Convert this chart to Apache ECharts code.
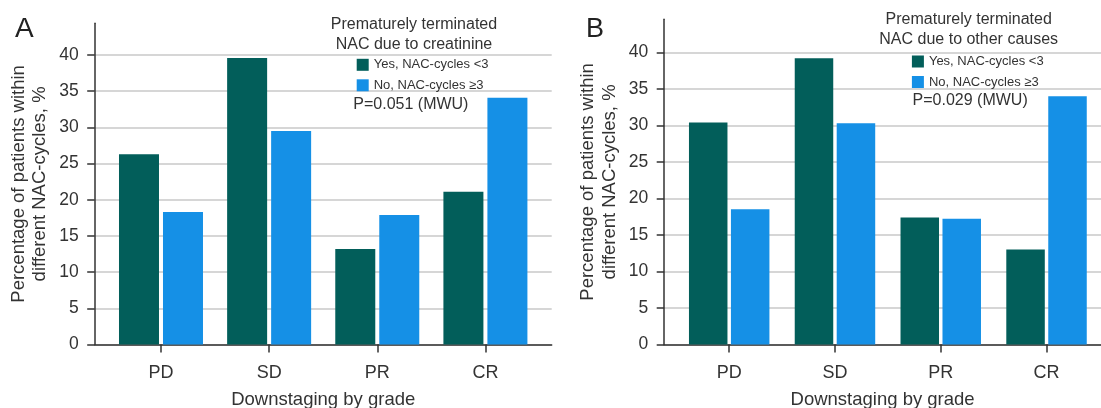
<!DOCTYPE html>
<html><head><meta charset="utf-8">
<script src="https://cdn.jsdelivr.net/npm/echarts@6/dist/echarts.min.js"></script>
<style>html,body{margin:0;padding:0;background:#fff}#c{width:1101px;height:408px}</style>
</head><body><div id="c"></div>
<script>
const categories = ['PD', 'SD', 'PR', 'CR'];
const seriesNames = ['Yes, NAC-cycles <3', 'No, NAC-cycles \u22653'];
const creatinineYes = [26.3, 39.6, 13.2, 21.1];
const creatinineNo = [18.3, 29.5, 17.9, 34.1];
const otherYes = [30.4, 39.2, 17.4, 13.0];
const otherNo = [18.5, 30.3, 17.2, 34.0];
const yTicks = [0, 5, 10, 15, 20, 25, 30, 35, 40];
const catPos = categories.map((c, i) => i + 1);

const FONT = "'Liberation Sans', Arial, Helvetica, sans-serif";
const DARK = '#025E5A';
const BLUE = '#1590E6';
const TXT = '#333';

function toPairs(arr) { return catPos.map((x, i) => [x, arr[i]]); }

function xAxisFor(gi, min, max) {
  return {
    type: 'value', gridIndex: gi, min: min, max: max,
    axisLine: { show: true, onZero: false, lineStyle: { color: '#333', width: 1.5 } },
    axisTick: { show: true, customValues: catPos, length: 8, lineStyle: { color: '#333', width: 1.5 } },
    axisLabel: { show: true, customValues: catPos, formatter: v => categories[Math.round(v) - 1] || '',
      fontSize: 18, color: TXT, fontFamily: FONT, margin: 19.5 },
    splitLine: { show: false },
    name: 'Downstaging by grade', nameLocation: 'middle', nameGap: 46,
    nameTextStyle: { fontSize: 18.5, color: TXT, fontFamily: FONT }
  };
}
function yAxisFor(gi, max) {
  return {
    type: 'value', gridIndex: gi, min: 0, max: max,
    axisLine: { show: true, onZero: false, lineStyle: { color: '#333', width: 1.5 } },
    axisTick: { show: true, customValues: yTicks, length: 7.5, lineStyle: { color: '#333', width: 1.5 } },
    axisLabel: { show: true, customValues: yTicks, fontSize: 17.5, color: TXT, fontFamily: FONT, margin: 16 },
    splitLine: { show: true, lineStyle: { color: '#c8c8c8', width: 1.5 } },
    name: 'Percentage of patients within\ndifferent NAC-cycles, %', nameLocation: 'middle', nameGap: 44, nameRotate: 90,
    nameTextStyle: { fontSize: 18.5, lineHeight: 21.5, color: TXT, fontFamily: FONT }
  };
}
function barSeries(name, data, gi, color, w, gap) {
  return { type: 'bar', name: name, xAxisIndex: gi, yAxisIndex: gi, data: toPairs(data),
    barWidth: w, barGap: gap, itemStyle: { color: color }, emphasis: { disabled: true }, animation: false };
}
function legendFor(left, top) {
  return { data: seriesNames, orient: 'vertical', left: left, top: top, padding: 0,
    itemWidth: 12, itemHeight: 12, itemGap: 7.5, icon: 'rect', selectedMode: false,
    textStyle: { fontSize: 13, color: TXT, fontFamily: FONT, lineHeight: 12 } };
}

const chart = echarts.init(document.getElementById('c'), null, { renderer: 'canvas' });
chart.setOption({
  animation: false,
  backgroundColor: '#fff',
  grid: [
    { left: 94.7, top: 23.3, width: 457, height: 321.2, containLabel: false, outerBoundsMode: 'none' },
    { left: 664.2, top: 19.3, width: 436.8, height: 325.2, containLabel: false, outerBoundsMode: 'none' }
  ],
  xAxis: [xAxisFor(0, 0.387, 4.613), xAxisFor(1, 0.3855, 4.515)],
  yAxis: [yAxisFor(0, 44.38), yAxisFor(1, 44.52)],
  legend: [legendFor(356.7, 58.3), legendFor(911.9, 55)],
  series: [
    barSeries(seriesNames[0], creatinineYes, 0, DARK, 40, '10%'),
    barSeries(seriesNames[1], creatinineNo, 0, BLUE, 40, '10%'),
    barSeries(seriesNames[0], otherYes, 1, DARK, 38.5, '9%'),
    barSeries(seriesNames[1], otherNo, 1, BLUE, 38.5, '9%')
  ],
  graphic: [
    { type: 'text', x: 15, y: 29, style: { text: 'A', fill: '#222', font: '28px ' + FONT, align: 'left', verticalAlign: 'middle' } },
    { type: 'text', x: 586, y: 29.5, style: { text: 'B', fill: '#222', font: '27px ' + FONT, align: 'left', verticalAlign: 'middle' } },
    { type: 'text', x: 414, y: 35, style: { text: 'Prematurely terminated\nNAC due to creatinine', fill: TXT, font: '16px ' + FONT, lineHeight: 20, align: 'center', verticalAlign: 'middle' } },
    { type: 'text', x: 968.7, y: 30, style: { text: 'Prematurely terminated\nNAC due to other causes', fill: TXT, font: '16px ' + FONT, lineHeight: 20, align: 'center', verticalAlign: 'middle' } },
    { type: 'text', x: 353.3, y: 104.5, style: { text: 'P=0.051 (MWU)', fill: TXT, font: '16px ' + FONT, align: 'left', verticalAlign: 'middle' } },
    { type: 'text', x: 912.6, y: 100.5, style: { text: 'P=0.029 (MWU)', fill: TXT, font: '16px ' + FONT, align: 'left', verticalAlign: 'middle' } }
  ]
});
</script>
</body></html>
